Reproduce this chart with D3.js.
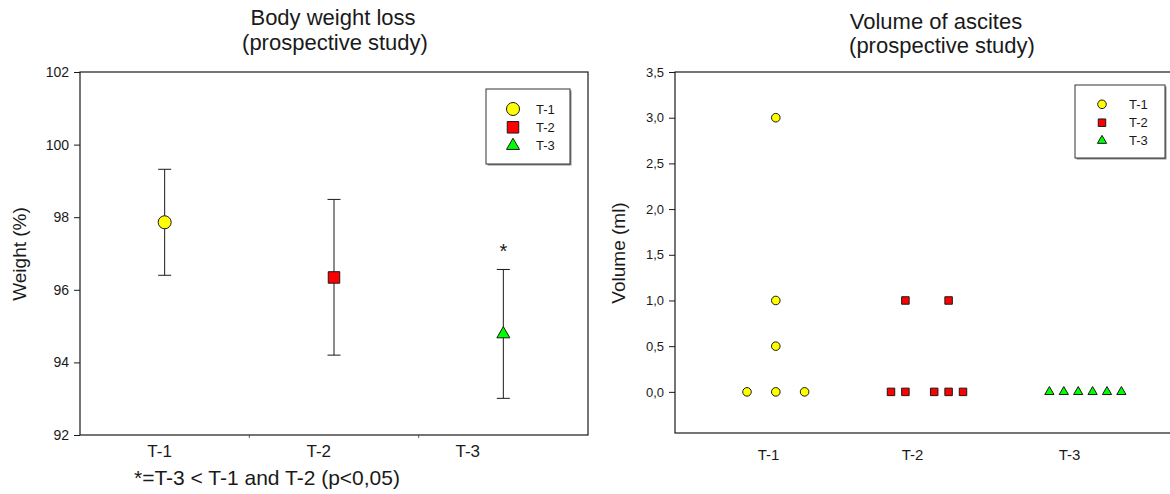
<!DOCTYPE html>
<html>
<head>
<meta charset="utf-8">
<script src="https://cdn.jsdelivr.net/npm/d3@7"></script>
<style>
  body { margin: 0; background: #fff; }
  svg { display: block; font-family: "Liberation Sans", Arial, sans-serif; }
</style>
</head>
<body>
<div id="charts"></div>
<script>
// groups shared by both panels
const groups = ["T-1", "T-2", "T-3"];
const groupFill = ["#ffff00", "#ff0000", "#00ff00"];

// body weight loss: mean and error bar ends (%)
const weightMean = [97.86, 96.34, 94.78];
const weightUpper = [99.32, 98.49, 96.56];
const weightLower = [96.40, 94.20, 93.01];
const weightSignif = ["", "", "*"];
const weightTicks = [92, 94, 96, 98, 100, 102];
const weightLabelPos = [0.97, 1.91, 2.79];
const weightMinor = [1.5, 2.5];

// ascites volume (ml): one entry per animal, x is the plotted jitter slot
const ascitesGroup = ["T-1","T-1","T-1","T-1","T-1","T-1",
                      "T-2","T-2","T-2","T-2","T-2","T-2","T-2",
                      "T-3","T-3","T-3","T-3","T-3","T-3"];
const ascitesX = [5, 7, 9, 7, 7, 7,
                  15, 16, 18, 19, 20, 16, 19,
                  26, 27, 28, 29, 30, 31];
const ascitesVol = [0, 0, 0, 0.5, 1, 3,
                    0, 0, 0, 0, 0, 1, 1,
                    0, 0, 0, 0, 0, 0];
const volumeTicks = [0, 0.5, 1, 1.5, 2, 2.5, 3, 3.5];
const volumeLabelPos = [6.5, 16.5, 27.4];

const width = 1170, height = 494;
const ink = "#1a1a1a";

const svg = d3.select("#charts").append("svg").attr("width", width).attr("height", height);

const symbolOf = d3.scaleOrdinal().domain(groups).range([d3.symbolCircle, d3.symbolSquare, d3.symbolTriangle]);
const fillOf = d3.scaleOrdinal().domain(groups).range(groupFill);

const textAttr = (selection, size, anchor) => {
    selection.attr("fill", ink).attr("font-size", size).attr("text-anchor", anchor || "middle");
}

const markerAttr = (selection, sizes) => {
    selection.attr("d", d => d3.symbol().type(symbolOf(d.group)).size(sizes[groups.indexOf(d.group)])())
        .attr("fill", d => fillOf(d.group)).attr("stroke", ink).attr("stroke-width", 1);
}

const drawLegend = (g, x, y, w, h, sizes, markerDx, textDx, rowY) => {
    g.append("rect").attr("x", x + 1.5).attr("y", y + 1.5).attr("width", w).attr("height", h).attr("fill", "#888");
    g.append("rect").attr("x", x).attr("y", y).attr("width", w).attr("height", h)
        .attr("fill", "#fff").attr("stroke", "#333").attr("stroke-width", 1);
    const rows = g.selectAll("g.legend-row").data(groups).enter().append("g").attr("class", "legend-row")
        .attr("transform", (d, i) => `translate(${x},${y + rowY[i]})`);
    rows.append("path").datum(d => ({group: d})).attr("transform", `translate(${markerDx},0)`).call(markerAttr, sizes);
    rows.append("text").attr("x", textDx).attr("y", 4.5).text(d => d).call(textAttr, "13px", "start");
}

// ---------- left panel: body weight loss ----------
const L = {x0: 80, x1: 588, y0: 72, y1: 435};
const xW = d3.scaleLinear().domain([0.5, 3.5]).range([L.x0, L.x1]);
const yW = d3.scaleLinear().domain([92, 102]).range([L.y1, L.y0]);
const gL = svg.append("g");

gL.append("text").attr("x", 333).attr("y", 25).text("Body weight loss").call(textAttr, "22px");
gL.append("text").attr("x", 335).attr("y", 50).text("(prospective study)").call(textAttr, "22px");

gL.append("g").attr("transform", `translate(${L.x0},0)`)
    .call(d3.axisLeft(yW).tickValues(weightTicks).tickSize(6).tickPadding(5).tickFormat(d3.format("d")))
    .call(g => g.select(".domain").remove())
    .call(g => g.selectAll("line").attr("stroke", ink))
    .call(g => g.selectAll("text").attr("font-family", null).call(textAttr, "14px", "end"));

gL.selectAll("line.minor").data(weightMinor).enter().append("line").attr("class", "minor")
    .attr("x1", d => xW(d)).attr("x2", d => xW(d)).attr("y1", L.y1).attr("y2", L.y1 + 3).attr("stroke", "#666");

gL.append("rect").attr("x", L.x0).attr("y", L.y0).attr("width", L.x1 - L.x0).attr("height", L.y1 - L.y0)
    .attr("fill", "none").attr("stroke", ink).attr("stroke-width", 1.2);

gL.append("text").attr("transform", `translate(26,254) rotate(-90)`).text("Weight (%)").call(textAttr, "19px");

gL.selectAll("text.xlab").data(groups).enter().append("text").attr("class", "xlab")
    .attr("x", (d, i) => xW(weightLabelPos[i])).attr("y", 457).text(d => d).call(textAttr, "17px");

gL.append("text").attr("x", 267).attr("y", 485).text("*=T-3 < T-1 and T-2 (p<0,05)").call(textAttr, "21px");

const weightData = groups.map((g, i) => ({group: g, pos: i + 1, mean: weightMean[i], hi: weightUpper[i], lo: weightLower[i], sig: weightSignif[i]}));

const bars = gL.selectAll("g.errbar").data(weightData).enter().append("g").attr("class", "errbar");
bars.append("line").attr("x1", d => xW(d.pos)).attr("x2", d => xW(d.pos)).attr("y1", d => yW(d.hi)).attr("y2", d => yW(d.lo)).attr("stroke", ink);
bars.append("line").attr("x1", d => xW(d.pos) - 6.5).attr("x2", d => xW(d.pos) + 6.5).attr("y1", d => yW(d.hi)).attr("y2", d => yW(d.hi)).attr("stroke", ink);
bars.append("line").attr("x1", d => xW(d.pos) - 6.5).attr("x2", d => xW(d.pos) + 6.5).attr("y1", d => yW(d.lo)).attr("y2", d => yW(d.lo)).attr("stroke", ink);
bars.append("text").attr("x", d => xW(d.pos)).attr("y", d => yW(d.hi) - 11).text(d => d.sig).call(textAttr, "20px");

const bigSizes = [133, 132, 73];
gL.selectAll("path.mean").data(weightData).enter().append("path").attr("class", "mean")
    .attr("transform", d => `translate(${xW(d.pos)},${yW(d.mean)})`).call(markerAttr, bigSizes);

drawLegend(gL.append("g"), 486, 89, 84, 75, bigSizes, 27, 50, [20, 38.3, 56.7]);

// ---------- right panel: volume of ascites ----------
const R = {x0: 675, x1: 1179, y0: 72, y1: 433};
const xV = d3.scaleLinear().domain([0, 35]).range([R.x0, R.x1]);
const yV = d3.scaleLinear().domain([-0.45, 3.5]).range([R.y1, R.y0]);
const gR = svg.append("g");

gR.append("text").attr("x", 936).attr("y", 29).text("Volume of ascites").call(textAttr, "22px");
gR.append("text").attr("x", 942).attr("y", 53).text("(prospective study)").call(textAttr, "22px");

gR.append("g").attr("transform", `translate(${R.x0},0)`)
    .call(d3.axisLeft(yV).tickValues(volumeTicks).tickSize(6).tickPadding(5).tickFormat(d => d3.format(".1f")(d).replace(".", ",")))
    .call(g => g.select(".domain").remove())
    .call(g => g.selectAll("line").attr("stroke", ink))
    .call(g => g.selectAll("text").attr("font-family", null).call(textAttr, "13px", "end"));

gR.append("rect").attr("x", R.x0).attr("y", R.y0).attr("width", R.x1 - R.x0).attr("height", R.y1 - R.y0)
    .attr("fill", "none").attr("stroke", ink).attr("stroke-width", 1.2);

gR.append("text").attr("transform", `translate(625,253) rotate(-90)`).text("Volume (ml)").call(textAttr, "19px");

gR.selectAll("text.xlab").data(groups).enter().append("text").attr("class", "xlab")
    .attr("x", (d, i) => xV(volumeLabelPos[i])).attr("y", 460).text(d => d).call(textAttr, "15px");

const ascitesData = ascitesVol.map((v, i) => ({group: ascitesGroup[i], x: ascitesX[i], vol: v}));
const smallSizes = [58, 56, 37];
gR.selectAll("path.pt").data(ascitesData).enter().append("path").attr("class", "pt")
    .attr("transform", d => `translate(${xV(d.x)},${yV(d.vol)})`).call(markerAttr, smallSizes);

drawLegend(gR.append("g"), 1075, 85, 90, 73, smallSizes, 27, 54, [19.3, 37.7, 55.7]);
</script>
</body>
</html>
